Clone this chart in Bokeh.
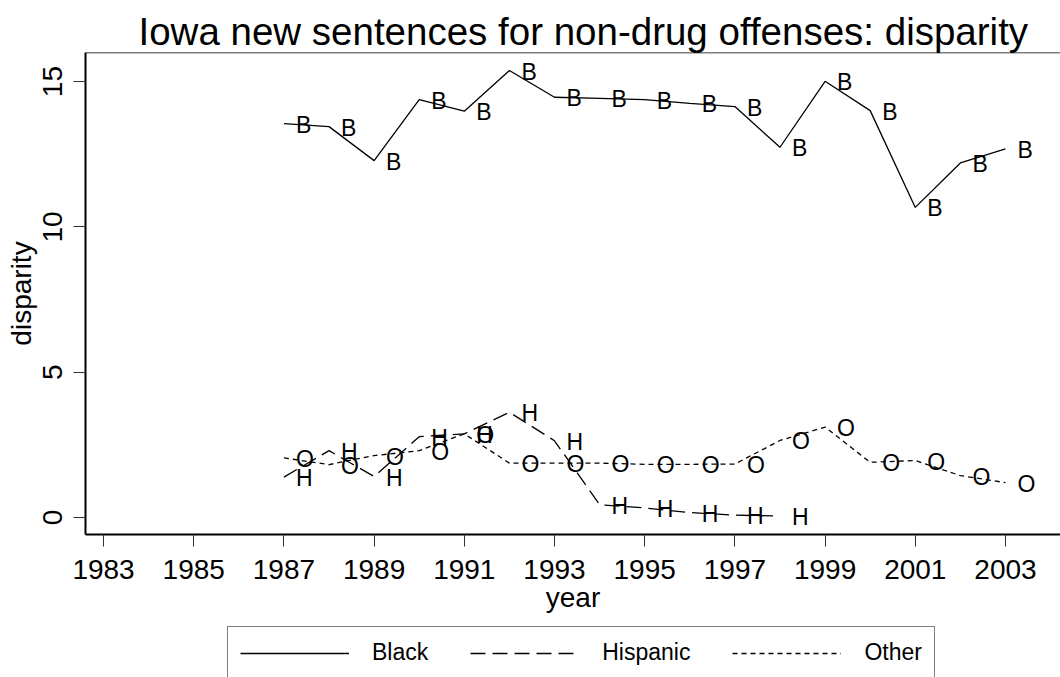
from bokeh.plotting import figure
from bokeh.layouts import column
from bokeh.models import Range1d, FixedTicker, Legend, LegendItem, Span
from bokeh.embed import file_html
from bokeh.resources import INLINE
from bokeh.core.properties import value

years = list(range(1987, 2004))
black = [13.55, 13.45, 12.28, 14.38, 13.98, 15.38, 14.46, 14.42, 14.38, 14.25,
         14.14, 12.74, 15.01, 14.00, 10.67, 12.20, 12.68]
hisp_years = list(range(1987, 1999))
hispanic = [1.39, 2.30, 1.41, 2.78, 2.88, 3.62, 2.64, 0.44, 0.33, 0.17, 0.08, 0.05]
other = [2.05, 1.82, 2.13, 2.30, 2.88, 1.87, 1.87, 1.87, 1.83, 1.83, 1.84,
         2.65, 3.11, 1.90, 1.96, 1.44, 1.20]
black_labels = ["B"] * len(years)
hisp_labels = ["H"] * len(hisp_years)
other_labels = ["O"] * len(years)
series_names = ["Black", "Hispanic", "Other"]
x_ticks = [1983, 1985, 1987, 1989, 1991, 1993, 1995, 1997, 1999, 2001, 2003]
y_ticks = [0, 5, 10, 15]

FONT = "Liberation Sans"
DASH_H = "15 7"
DASH_O = "5 4"

p = figure(width=1060, height=620, output_backend="svg", toolbar_location=None,
           x_range=Range1d(1982.60, 2004.22), y_range=Range1d(-0.585, 16.0),
           title="Iowa new sentences for non-drug offenses: disparity",
           min_border_left=85, min_border_right=0, min_border_top=52,
           min_border_bottom=86)
p.background_fill_color = "white"
p.border_fill_color = "white"
p.outline_line_color = None
p.xgrid.visible = False
p.ygrid.visible = False

p.title.text_font = FONT
p.title.text_font_size = "38.5px"
p.title.text_font_style = "normal"
p.title.text_color = "black"
p.title.align = "left"
p.title.offset = 53
p.title.standoff = 0

top = Span(location=16.0, dimension="width", line_color="black", line_width=1.5)
p.add_layout(top)

for ax in (p.xaxis[0], p.yaxis[0]):
    ax.axis_line_color = "black"
    ax.axis_line_width = 2
    ax.major_tick_line_color = "#333333"
    ax.major_tick_line_width = 1
    ax.major_tick_out = 12
    ax.major_tick_in = 0
    ax.minor_tick_line_color = None
    ax.major_label_text_font = FONT
    ax.major_label_text_font_size = "28px"
    ax.major_label_text_color = "black"
    ax.axis_label_text_font = FONT
    ax.axis_label_text_font_size = "28px"
    ax.axis_label_text_font_style = "normal"
    ax.axis_label_text_color = "black"

p.xaxis.ticker = FixedTicker(ticks=x_ticks)
p.xaxis.axis_label = "year"
p.xaxis.major_label_standoff = 13
p.xaxis.axis_label_standoff = 0

p.yaxis.ticker = FixedTicker(ticks=y_ticks)
p.yaxis.axis_label = "disparity"
p.yaxis.major_label_orientation = "vertical"
p.yaxis.major_label_standoff = 11
p.yaxis.axis_label_standoff = 4

r_b = p.line(years, black, line_color="black", line_width=1.3)
r_h = p.line(hisp_years, hispanic, line_color="black", line_width=1.3, line_dash=DASH_H)
r_o = p.line(years, other, line_color="black", line_width=1.3, line_dash=DASH_O)

for xs, ys, labs in ((years, black, black_labels), (hisp_years, hispanic, hisp_labels),
                     (years, other, other_labels)):
    p.text(x=xs, y=ys, text=labs, text_align="left", text_baseline="middle",
           x_offset=12, y_offset=1, text_font=value(FONT), text_font_size="23px",
           text_color="black")

# legend strip below the chart (series drawn outside its view, only the key shows)
q = figure(width=1060, height=57, output_backend="svg", toolbar_location=None,
           x_range=Range1d(0, 1), y_range=Range1d(-3, -2),
           x_axis_type=None, y_axis_type=None,
           min_border_left=0, min_border_right=0, min_border_top=0, min_border_bottom=0)
q.outline_line_color = None
q.xgrid.visible = False
q.ygrid.visible = False
q.background_fill_color = "white"
q.border_fill_color = "white"
l_b = q.line(years, black, line_color="black", line_width=1.3)
l_h = q.line(hisp_years, hispanic, line_color="black", line_width=1.3, line_dash=DASH_H)
l_o = q.line(years, other, line_color="black", line_width=1.3, line_dash=DASH_O)

legend = Legend(items=[LegendItem(label=series_names[0], renderers=[l_b]),
                       LegendItem(label=series_names[1], renderers=[l_h]),
                       LegendItem(label=series_names[2], renderers=[l_o])],
                orientation="horizontal", location=(142, -2),
                glyph_width=109, glyph_height=20, label_standoff=23, spacing=42,
                padding=12, margin=0, border_line_color="black", border_line_width=1,
                label_text_font=FONT, label_text_font_size="23px",
                label_text_color="black", background_fill_color="white")
q.add_layout(legend, "center")

layout = column(p, q, spacing=0)
open("out.html", "w").write(file_html(layout, INLINE))
